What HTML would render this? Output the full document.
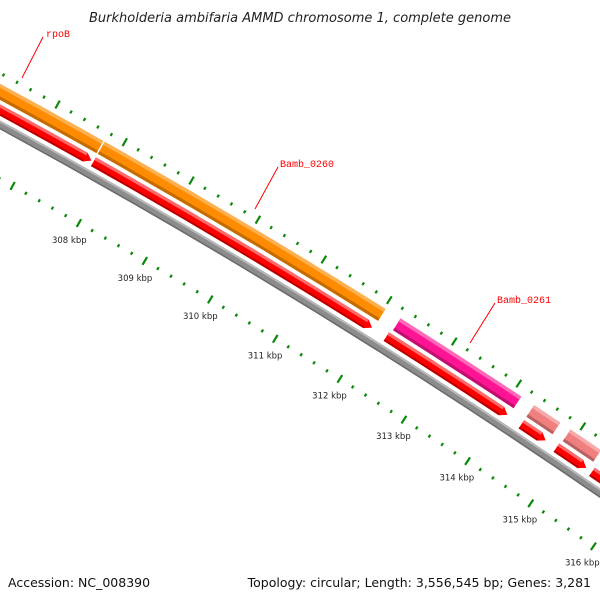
<!DOCTYPE html>
<html><head><meta charset="utf-8"><style>
html,body{margin:0;padding:0;background:#fff;}
svg{display:block;}
</style></head><body>
<svg id="map" width="600" height="600" viewBox="0 0 600 600" xmlns="http://www.w3.org/2000/svg">
<rect width="600" height="600" fill="#fff"/>
<g id="ticks"></g>
<g id="features"></g>
<g id="labels"></g>
<g>
<line x1="43" y1="37" x2="22" y2="78" stroke="#ff0000" stroke-width="1"/>
<text x="46" y="37" fill="#ff0000" font-family="Liberation Mono, DejaVu Sans Mono, monospace" font-size="10">rpoB</text>
<line x1="278" y1="167" x2="255" y2="209" stroke="#ff0000" stroke-width="1"/>
<text x="280" y="167" fill="#ff0000" font-family="Liberation Mono, DejaVu Sans Mono, monospace" font-size="10">Bamb_0260</text>
<line x1="495" y1="303" x2="470" y2="343" stroke="#ff0000" stroke-width="1"/>
<text x="497" y="303" fill="#ff0000" font-family="Liberation Mono, DejaVu Sans Mono, monospace" font-size="10">Bamb_0261</text>
</g>
<text x="300" y="22" text-anchor="middle" font-family="DejaVu Sans, Liberation Sans, sans-serif" font-style="italic" font-size="13" fill="#222">Burkholderia ambifaria AMMD chromosome 1, complete genome</text>
<text x="8" y="587" font-family="DejaVu Sans, Liberation Sans, sans-serif" font-size="12.5" fill="#111">Accession: NC_008390</text>
<text x="591" y="587" text-anchor="end" font-family="DejaVu Sans, Liberation Sans, sans-serif" font-size="12.5" fill="#111">Topology: circular; Length: 3,556,545 bp; Genes: 3,281</text>
</svg>
<script>
// data
var featStart = [306.0, 307.77, 306.0, 307.77, 312.25, 312.22, 314.32, 314.32, 314.89, 314.87, 315.43, 315.5];
var featEnd   = [307.75, 312.02, 307.74, 312.0, 314.12, 314.1, 314.73, 314.7, 315.37, 315.34, 317.5, 317.5];
var featTrack = ["outer","outer","inner","inner","outer","inner","outer","inner","outer","inner","inner","outer"];
var featColor = ["orange","orange","red","red","pink","red","salmon","red","salmon","red","red","salmon"];
var tickLabels = [308,309,310,311,312,313,314,315,316];
var tickStart = 306, tickEnd = 317.4, tickStep = 0.2;

var CX=-3237, CY=6072;
var A0=-60.45, DEG_PER_KBP=0.6475;
function ang(k){return (A0+(k-308)*DEG_PER_KBP)*Math.PI/180;}
function pt(k,r){var a=ang(k);return [CX+r*Math.cos(a), CY+r*Math.sin(a)];}
function f(p){return p[0].toFixed(2)+","+p[1].toFixed(2);}
var NS="http://www.w3.org/2000/svg";
var palette={orange:["#ff8c00","#ffb050","#c46c00"],red:["#ff0000","#ff6a6a","#b80000"],
  pink:["#ff1493","#ff6ab8","#c00f70"],salmon:["#f08080","#f7aaaa","#b86262"]};
var tracks={outer:[6793,6807],inner:[6779,6789]};

function band(k1,k2,r1,r2){
  return "M"+f(pt(k1,r1))+" A"+r1+","+r1+" 0 0 1 "+f(pt(k2,r1))+" L"+f(pt(k2,r2))+" A"+r2+","+r2+" 0 0 0 "+f(pt(k1,r2))+"Z";
}
function addPath(g,d,fill,name){
  var p=document.createElementNS(NS,"path");
  p.setAttribute("d",d);p.setAttribute("fill",fill);
  
  
  g.appendChild(p);return p;
}
var fg=document.getElementById("features");
// backbone
var bb=document.createElementNS(NS,"g");
fg.appendChild(bb);
addPath(bb,band(305,318,6775,6767),"#8c8c8c","backbone");
addPath(bb,band(305,318,6775,6773),"#b8b8b8","backbone-highlight");
addPath(bb,band(305,318,6768.5,6767),"#6a6a6a","backbone-shadow");

var arrowKbp = 7/6784*180/Math.PI/DEG_PER_KBP;
for(var i=0;i<featStart.length;i++){
  var tr=tracks[featTrack[i]], c=palette[featColor[i]];
  var k1=featStart[i], k2=featEnd[i], ri=tr[0], ro=tr[1];
  var name="feature-"+featColor[i]+"-"+i;
  if(featTrack[i]=="inner"){
    var kb=k2-arrowKbp, rm=(ri+ro)/2;
    var d="M"+f(pt(k1,ro))+" A"+ro+","+ro+" 0 0 1 "+f(pt(kb,ro))+" L"+f(pt(k2,rm))+" L"+f(pt(kb,ri))+" A"+ri+","+ri+" 0 0 0 "+f(pt(k1,ri))+"Z";
    addPath(fg,d,c[0],name);
    addPath(fg,band(k1,kb,ro,ro-3),c[1],name+"-highlight");
    addPath(fg,band(k1,kb,ri+2,ri),c[2],name+"-shadow");
  } else {
    addPath(fg,band(k1,k2,ro,ri),c[0],name);
    addPath(fg,band(k1,k2,ro,ro-3.5),c[1],name+"-highlight");
    addPath(fg,band(k1,k2,ri+3,ri),c[2],name+"-shadow");
  }
}
// ticks
var tg=document.getElementById("ticks");
var n=Math.round((tickEnd-tickStart)/tickStep);
for(var j=0;j<=n;j++){
  var k=tickStart+j*tickStep;
  var major=Math.abs(k-Math.round(k))<1e-6;
  var tracksR=[6816.5,6723.5];
  for(var t=0;t<2;t++){
    var rc=tracksR[t], h=major?4.5:1.6;
    var a=pt(k,rc-h), b=pt(k,rc+h);
    var l=document.createElementNS(NS,"line");
    l.setAttribute("x1",a[0]);l.setAttribute("y1",a[1]);l.setAttribute("x2",b[0]);l.setAttribute("y2",b[1]);
    l.setAttribute("stroke","#0a8a0a");l.setAttribute("stroke-width",major?"2.2":"2.2");
    
    
    tg.appendChild(l);
  }
}
var lg=document.getElementById("labels");
for(var m=0;m<tickLabels.length;m++){
  var p=pt(tickLabels[m],6704);
  var tx=document.createElementNS(NS,"text");
  tx.setAttribute("x",p[0].toFixed(1));tx.setAttribute("y",(p[1]+3).toFixed(1));
  tx.setAttribute("text-anchor","middle");
  tx.setAttribute("font-family","DejaVu Sans, Liberation Sans, sans-serif");
  tx.setAttribute("font-size","8.5");tx.setAttribute("fill","#222");
  
  
  tx.textContent=tickLabels[m]+" kbp";
  lg.appendChild(tx);
}
</script>
</body></html>
